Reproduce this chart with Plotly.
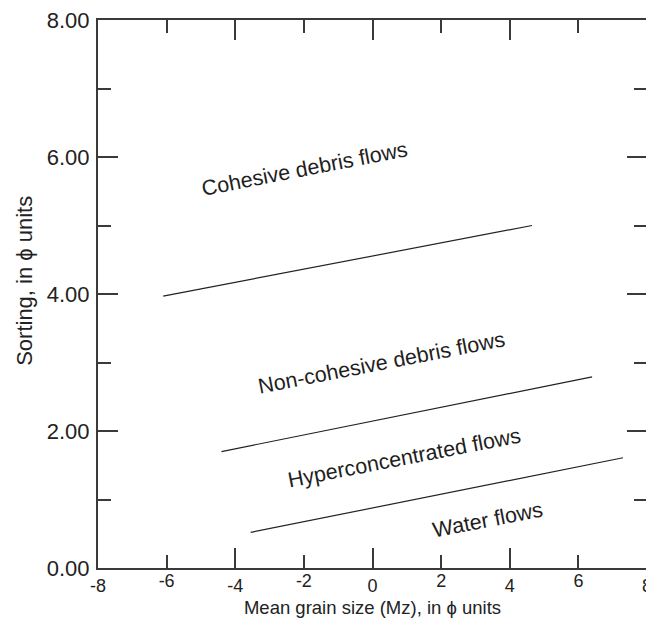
import plotly.graph_objects as go

# ---- data ----
x_major_ticks = [-8, -4, 0, 4, 8]
x_minor_ticks = [-6, -2, 2, 6]
y_major_ticks = [0, 2, 4, 6, 8]
y_minor_ticks = [1, 3, 5, 7]

cohesive_x = [-6.1, 4.65]
cohesive_y = [3.97, 5.0]
noncohesive_x = [-4.4, 6.4]
noncohesive_y = [1.70, 2.79]
hyper_x = [-3.55, 7.3]
hyper_y = [0.52, 1.61]

region_labels = ["Cohesive debris flows", "Non-cohesive debris flows",
                 "Hyperconcentrated flows", "Water flows"]
region_x = [-1.97, 0.25, 0.92, 3.37]
region_y = [5.82, 3.0, 1.61, 0.70]

x_title = "Mean grain size (Mz), in ϕ units"
y_title = "Sorting, in ϕ units"

FONT = "Liberation Sans, Arial, Helvetica, sans-serif"
AX = "#3a3a3a"
TXT = "#222222"

fig = go.Figure()
for xs, ys in [(cohesive_x, cohesive_y), (noncohesive_x, noncohesive_y), (hyper_x, hyper_y)]:
    fig.add_trace(go.Scatter(x=xs, y=ys, mode="lines",
                             line=dict(color="#222222", width=1.2),
                             showlegend=False, hoverinfo="skip"))
# invisible trace on overlay axis carrying the extra x labels
fig.add_trace(go.Scatter(x=x_minor_ticks, y=[None]*len(x_minor_ticks), xaxis="x2",
                         mode="markers", showlegend=False, hoverinfo="skip"))

for t, x, y in zip(region_labels, region_x, region_y):
    fig.add_annotation(x=x, y=y, text=t, showarrow=False, textangle=-11,
                       font=dict(family=FONT, size=21.5, color="#1e1e1e"))

# y-axis title (placed as rotated text to match the reference position)
fig.add_annotation(xref="paper", yref="paper", x=0, y=0.524, xshift=-73,
                   text=y_title, showarrow=False, textangle=-90,
                   xanchor="center", yanchor="middle",
                   font=dict(family=FONT, size=22, color=TXT))

fig.update_layout(
    width=646, height=621,
    margin=dict(l=90, r=7, t=12, b=61),
    paper_bgcolor="white", plot_bgcolor="white",
    font=dict(family=FONT, color=TXT),
    xaxis=dict(range=[-8, 8], tickmode="array", tickvals=x_major_ticks,
               ticktext=[str(v) for v in x_major_ticks], automargin=False,
               ticklabeloverflow="allow",
               ticks="inside", ticklen=20, tickwidth=2, tickcolor=AX,
               minor=dict(tickmode="array", tickvals=x_minor_ticks, ticks="inside",
                          ticklen=13, tickwidth=2, tickcolor=AX),
               showline=True, linecolor=AX, linewidth=2, mirror="ticks",
               showgrid=False, zeroline=False,
               tickfont=dict(size=18, family=FONT, color=TXT),
               title=dict(text=x_title,
                          font=dict(size=18.5, family=FONT, color=TXT), standoff=6)),
    xaxis2=dict(range=[-8, 8], overlaying="x", side="bottom", matches="x",
                tickmode="array", tickvals=x_minor_ticks, automargin=False,
                ticklabeloverflow="allow",
                ticktext=[str(v) for v in x_minor_ticks],
                ticks="inside", ticklen=20, tickwidth=2, tickcolor="rgba(0,0,0,0)",
                showline=False, showgrid=False, zeroline=False,
                tickfont=dict(size=18, family=FONT, color=TXT)),
    yaxis=dict(range=[0, 8], tickmode="array", tickvals=y_major_ticks,
               ticktext=[f"{v:.2f}" for v in y_major_ticks], automargin=False,
               ticklabeloverflow="allow", ticklabelstandoff=2,
               ticks="inside", ticklen=20, tickwidth=2, tickcolor=AX,
               minor=dict(tickmode="array", tickvals=y_minor_ticks, ticks="inside",
                          ticklen=13, tickwidth=2, tickcolor=AX),
               showline=True, linecolor=AX, linewidth=2, mirror="ticks",
               showgrid=False, zeroline=False,
               tickfont=dict(size=22, family=FONT, color=TXT)),
)

fig.write_html("out.html")
